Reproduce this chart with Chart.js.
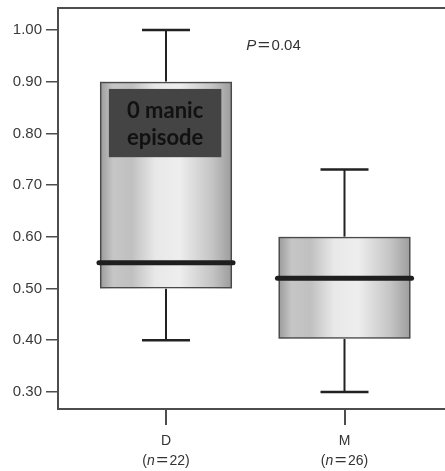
<!DOCTYPE html>
<html>
<head>
<meta charset="utf-8">
<script src="https://cdn.jsdelivr.net/npm/chart.js@4.4.1/dist/chart.umd.min.js"></script>
<style>
  html, body { margin: 0; padding: 0; background: #fff; }
</style>
</head>
<body>
<canvas id="chart" width="445" height="471"></canvas>
<script>
// Box plot values
const groups = ['D', 'M'];
const groupSizes = [22, 26];
const whiskerLow = [0.40, 0.30];
const lowerQuartile = [0.50, 0.403];
const medians = [0.55, 0.52];
const upperQuartile = [0.90, 0.60];
const whiskerHigh = [1.00, 0.73];
const yTickValues = [0.30, 0.40, 0.50, 0.60, 0.70, 0.80, 0.90, 1.00];
const pValue = '0.04';
const noteLines = ['0 manic', 'episode'];

const axisColor = '#4d4d4d';
const textFont = '"Liberation Sans", Arial, Helvetica, sans-serif';

// note box and p label anchored in data units
const noteBox = { xMin: 0.68, xMax: 1.31, yMin: 0.754, yMax: 0.886 };
const pLabelPos = { x: 1.45, y: 0.969 };

// runs of text: [string, font style, horizontal stretch]
const measureRuns = (ctx, runs, size) => runs.reduce((w, r) => {
    ctx.font = r[1] + size + 'px ' + textFont;
    return w + ctx.measureText(r[0]).width * r[2] + (r[2] > 1 ? 3 : 0);
}, 0);

const drawRuns = (ctx, runs, size, x, y) => {
    let cur = x;
    ctx.textAlign = 'left';
    runs.forEach(r => {
        ctx.font = r[1] + size + 'px ' + textFont;
        const w = ctx.measureText(r[0]).width;
        if (r[2] > 1) {
            cur += 1.5;
            ctx.save();
            ctx.translate(cur, y);
            ctx.scale(r[2], 1);
            ctx.fillText(r[0], 0, 0);
            ctx.restore();
            cur += w * r[2] + 1.5;
        } else {
            ctx.fillText(r[0], cur, y);
            cur += w;
        }
    });
};

const boxPlotPlugin = {
    id: 'boxPlot',
    beforeDatasetsDraw(chart) {
        const { ctx, scales: { y } } = chart;
        const meta = chart.getDatasetMeta(0);
        meta.data.forEach((bar, i) => {
            const { x, width } = bar.getProps(['x', 'width'], true);
            const left = x - width / 2;
            const right = x + width / 2;
            const top = y.getPixelForValue(upperQuartile[i]);
            const bottom = y.getPixelForValue(lowerQuartile[i]);
            const hi = y.getPixelForValue(whiskerHigh[i]);
            const lo = y.getPixelForValue(whiskerLow[i]);

            ctx.save();
            // whiskers
            ctx.strokeStyle = '#222';
            ctx.lineWidth = 2;
            ctx.beginPath();
            ctx.moveTo(x, hi); ctx.lineTo(x, top);
            ctx.moveTo(x, bottom); ctx.lineTo(x, lo);
            ctx.stroke();
            ctx.lineWidth = 2.5;
            ctx.beginPath();
            ctx.moveTo(x - 24, hi); ctx.lineTo(x + 24, hi);
            ctx.moveTo(x - 24, lo); ctx.lineTo(x + 24, lo);
            ctx.stroke();

            // shaded fill of the box
            const g = ctx.createLinearGradient(left, 0, right, 0);
            g.addColorStop(0, '#9a9a9a');
            g.addColorStop(0.1, '#c6c6c6');
            g.addColorStop(0.24, '#c0c0c0');
            g.addColorStop(0.42, '#e8e8e8');
            g.addColorStop(0.6, '#eeeeee');
            g.addColorStop(0.85, '#c4c4c4');
            g.addColorStop(1, '#9c9c9c');
            ctx.fillStyle = g;
            ctx.fillRect(left, top, width, bottom - top);
            ctx.restore();
        });
    },
    afterDatasetsDraw(chart) {
        const { ctx, chartArea, scales: { x, y } } = chart;
        const meta = chart.getDatasetMeta(0);

        ctx.save();
        // medians
        ctx.strokeStyle = '#1e1e1e';
        ctx.lineWidth = 5;
        ctx.lineCap = 'round';
        meta.data.forEach((bar, i) => {
            const { x: cx, width } = bar.getProps(['x', 'width'], true);
            const my = y.getPixelForValue(medians[i]);
            ctx.beginPath();
            ctx.moveTo(cx - width / 2 - 1, my);
            ctx.lineTo(cx + width / 2 + 1, my);
            ctx.stroke();
        });

        // top frame line
        ctx.lineCap = 'butt';
        ctx.strokeStyle = axisColor;
        ctx.lineWidth = 2;
        ctx.beginPath();
        ctx.moveTo(chartArea.left, chartArea.top);
        ctx.lineTo(chartArea.right, chartArea.top);
        ctx.stroke();

        // "0 manic episode" note
        const nx1 = x.getPixelForValue(noteBox.xMin);
        const nx2 = x.getPixelForValue(noteBox.xMax);
        const ny1 = y.getPixelForValue(noteBox.yMax);
        const ny2 = y.getPixelForValue(noteBox.yMin);
        ctx.fillStyle = '#444444';
        ctx.fillRect(nx1, ny1, nx2 - nx1, ny2 - ny1);
        ctx.fillStyle = '#111';
        ctx.font = 'bold 22px Lato, "Open Sans", sans-serif';
        ctx.textAlign = 'center';
        ctx.textBaseline = 'alphabetic';
        const ncx = (nx1 + nx2) / 2;
        const ncy = (ny1 + ny2) / 2;
        ctx.fillText(noteLines[0], ncx, ncy - 5);
        ctx.fillText(noteLines[1], ncx, ncy + 22);

        // P value
        const px = x.getPixelForValue(pLabelPos.x);
        const py = y.getPixelForValue(pLabelPos.y);
        ctx.fillStyle = '#333';
        ctx.textBaseline = 'middle';
        drawRuns(ctx, [['P', 'italic ', 1], ['=', '', 1.4], [pValue, '', 1]], 15, px, py);

        // x category labels with italic n
        groups.forEach((name, i) => {
            const gx = x.getPixelForValue(i + 1);
            ctx.font = '14px ' + textFont;
            ctx.textAlign = 'center';
            ctx.fillText(name, gx, chartArea.bottom + 32);
            const runs = [['(', '', 1], ['n', 'italic ', 1], ['=', '', 1.45], [groupSizes[i] + ')', '', 1]];
            const total = measureRuns(ctx, runs, 14);
            drawRuns(ctx, runs, 14, gx - total / 2, chartArea.bottom + 52);
        });
        ctx.restore();
    }
};

const ctx = document.getElementById('chart').getContext('2d');
new Chart(ctx, {
    type: 'bar',
    data: {
        datasets: [{
            data: groups.map((g, i) => ({ x: i + 1, y: [lowerQuartile[i], upperQuartile[i]] })),
            backgroundColor: 'rgba(0,0,0,0)',
            borderColor: '#4a4a4a',
            borderWidth: 1.5,
            borderSkipped: false,
            categoryPercentage: 1,
            barPercentage: 0.74
        }]
    },
    options: {
        responsive: false,
        animation: false,
        layout: { padding: { top: 8, left: 0, right: 0, bottom: 0 } },
        plugins: { legend: { display: false }, tooltip: { enabled: false } },
        scales: {
            x: {
                type: 'linear',
                offset: false,
                min: 0.395,
                max: 2.563,
                afterBuildTicks: s => { s.ticks = groups.map((g, i) => ({ value: i + 1 })); },
                afterFit: s => { s.height = 62; s.paddingLeft = 0; s.paddingRight = 0; },
                ticks: { callback: () => '' },
                grid: { offset: false, drawOnChartArea: false, tickLength: 16, color: axisColor, lineWidth: 2 },
                border: { color: axisColor, width: 2 }
            },
            y: {
                type: 'linear',
                min: 0.267,
                max: 1.0425,
                afterBuildTicks: s => { s.ticks = yTickValues.map(v => ({ value: v })); },
                afterFit: s => { s.width = 58; s.paddingTop = 0; s.paddingBottom = 0; },
                ticks: {
                    callback: v => v.toFixed(2),
                    font: { family: textFont, size: 15 },
                    color: '#3a3a3a',
                    padding: 4
                },
                grid: { drawOnChartArea: false, tickLength: 12, color: axisColor, lineWidth: 1.5 },
                border: { color: axisColor, width: 2 }
            }
        }
    },
    plugins: [boxPlotPlugin]
});
</script>
</body>
</html>
